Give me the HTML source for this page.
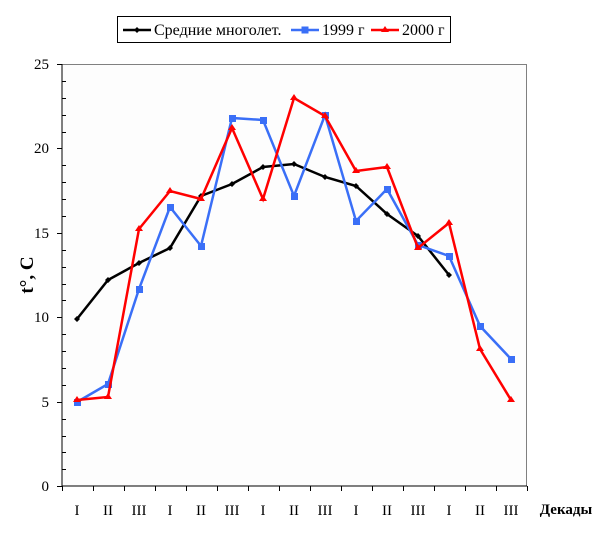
<!DOCTYPE html>
<html><head><meta charset="utf-8"><style>body{margin:0;background:#fff}svg{display:block}</style></head><body>
<svg width="611" height="533" xmlns="http://www.w3.org/2000/svg" font-family="Liberation Serif, serif">
<rect x="62" y="64" width="465" height="422" fill="#fdfdfd"/>
<line x1="62" y1="64.5" x2="527" y2="64.5" stroke="#808080" stroke-width="1"/>
<line x1="526.5" y1="64" x2="526.5" y2="486" stroke="#808080" stroke-width="1"/>
<g stroke="#000" stroke-width="1">
<line x1="62" y1="64" x2="62" y2="486"/>
<line x1="62" y1="486" x2="527" y2="486"/>
<line x1="57" y1="64.5" x2="62" y2="64.5"/><line x1="57" y1="148.5" x2="62" y2="148.5"/><line x1="57" y1="233.5" x2="62" y2="233.5"/><line x1="57" y1="317.5" x2="62" y2="317.5"/><line x1="57" y1="402.5" x2="62" y2="402.5"/><line x1="57" y1="486.5" x2="62" y2="486.5"/>
<path d="M62 81.5h4M62 98.5h4M62 115.5h4M62 132.5h4M62 165.5h4M62 182.5h4M62 199.5h4M62 216.5h4M62 250.5h4M62 267.5h4M62 284.5h4M62 300.5h4M62 334.5h4M62 351.5h4M62 368.5h4M62 385.5h4M62 419.5h4M62 436.5h4M62 452.5h4M62 469.5h4"/>
<path d="M62.5 486v5M93.5 486v5M124.5 486v5M155.5 486v5M186.5 486v5M217.5 486v5M248.5 486v5M279.5 486v5M310.5 486v5M341.5 486v5M372.5 486v5M403.5 486v5M434.5 486v5M465.5 486v5M496.5 486v5M527.5 486v5"/>
</g>
<g font-size="15" text-anchor="end">
<text x="49" y="69">25</text><text x="49" y="153">20</text><text x="49" y="238">15</text><text x="49" y="322">10</text><text x="49" y="407">5</text><text x="49" y="491">0</text>
</g>
<g font-size="15" text-anchor="middle">
<text x="77" y="515">I</text><text x="108" y="515">II</text><text x="139" y="515">III</text><text x="170" y="515">I</text><text x="201" y="515">II</text><text x="232" y="515">III</text><text x="263" y="515">I</text><text x="294" y="515">II</text><text x="325" y="515">III</text><text x="356" y="515">I</text><text x="387" y="515">II</text><text x="418" y="515">III</text><text x="449" y="515">I</text><text x="480" y="515">II</text><text x="511" y="515">III</text>
</g>
<text x="566" y="514" font-size="15" font-weight="bold" text-anchor="middle">Декады</text>
<text transform="translate(33,275) rotate(-90)" font-size="19" font-weight="bold" text-anchor="middle">t°, C</text>
<polyline fill="none" stroke="#000" stroke-width="2.5" points="77,319 108,280 139,263 170,248 201,196 232,184 263,167 294,164 325,177 356,186 387,214 418,236 449,275"/>
<g fill="#000"><path d="M77 316l3 3-3 3-3-3zM108 277l3 3-3 3-3-3zM139 260l3 3-3 3-3-3zM170 245l3 3-3 3-3-3zM201 193l3 3-3 3-3-3zM232 181l3 3-3 3-3-3zM263 164l3 3-3 3-3-3zM294 161l3 3-3 3-3-3zM325 174l3 3-3 3-3-3zM356 183l3 3-3 3-3-3zM387 211l3 3-3 3-3-3zM418 233l3 3-3 3-3-3zM449 272l3 3-3 3-3-3z"/></g>
<polyline fill="none" stroke="#3a6ff7" stroke-width="2.5" points="77,402 108,384 139,289 170,207 201,246 232,118 263,120 294,196 325,115 356,221 387,189 418,245 449,256 480,326 511,359"/>
<g fill="#3a6ff7">
<rect x="74" y="399" width="7" height="7"/><rect x="105" y="381" width="7" height="7"/><rect x="136" y="286" width="7" height="7"/><rect x="167" y="204" width="7" height="7"/><rect x="198" y="243" width="7" height="7"/><rect x="229" y="115" width="7" height="7"/><rect x="260" y="117" width="7" height="7"/><rect x="291" y="193" width="7" height="7"/><rect x="322" y="112" width="7" height="7"/><rect x="353" y="218" width="7" height="7"/><rect x="384" y="186" width="7" height="7"/><rect x="415" y="242" width="7" height="7"/><rect x="446" y="253" width="7" height="7"/><rect x="477" y="323" width="7" height="7"/><rect x="508" y="356" width="7" height="7"/>
</g>
<polyline fill="none" stroke="#f00" stroke-width="2.5" points="77,400 108,397 139,229 170,191 201,199 232,128 263,199 294,98 325,116 356,171 387,167 418,248 449,223 480,349 511,400"/>
<g fill="#f00">
<path d="M77 396l4 6h-8zM108 393l4 6h-8zM139 225l4 6h-8zM170 187l4 6h-8zM201 195l4 6h-8zM232 124l4 6h-8zM263 195l4 6h-8zM294 94l4 6h-8zM325 112l4 6h-8zM356 167l4 6h-8zM387 163l4 6h-8zM418 244l4 6h-8zM449 219l4 6h-8zM480 345l4 6h-8zM511 396l4 6h-8z"/>
</g>
<rect x="117.5" y="16.5" width="333" height="26" fill="#fff" stroke="#000"/>
<line x1="123" y1="30" x2="151" y2="30" stroke="#000" stroke-width="2.5"/><path d="M137 27l3 3-3 3-3-3z"/>
<text x="154" y="35" font-size="16">Средние многолет.</text>
<line x1="291" y1="30" x2="319" y2="30" stroke="#3a6ff7" stroke-width="2.5"/><rect x="301.5" y="26.5" width="7" height="7" fill="#3a6ff7"/>
<text x="322" y="35" font-size="16">1999 г</text>
<line x1="371" y1="30" x2="399" y2="30" stroke="#f00" stroke-width="2.5"/><path d="M385 26l4 6h-8z" fill="#f00"/>
<text x="402" y="35" font-size="16">2000 г</text>
</svg>
</body></html>
